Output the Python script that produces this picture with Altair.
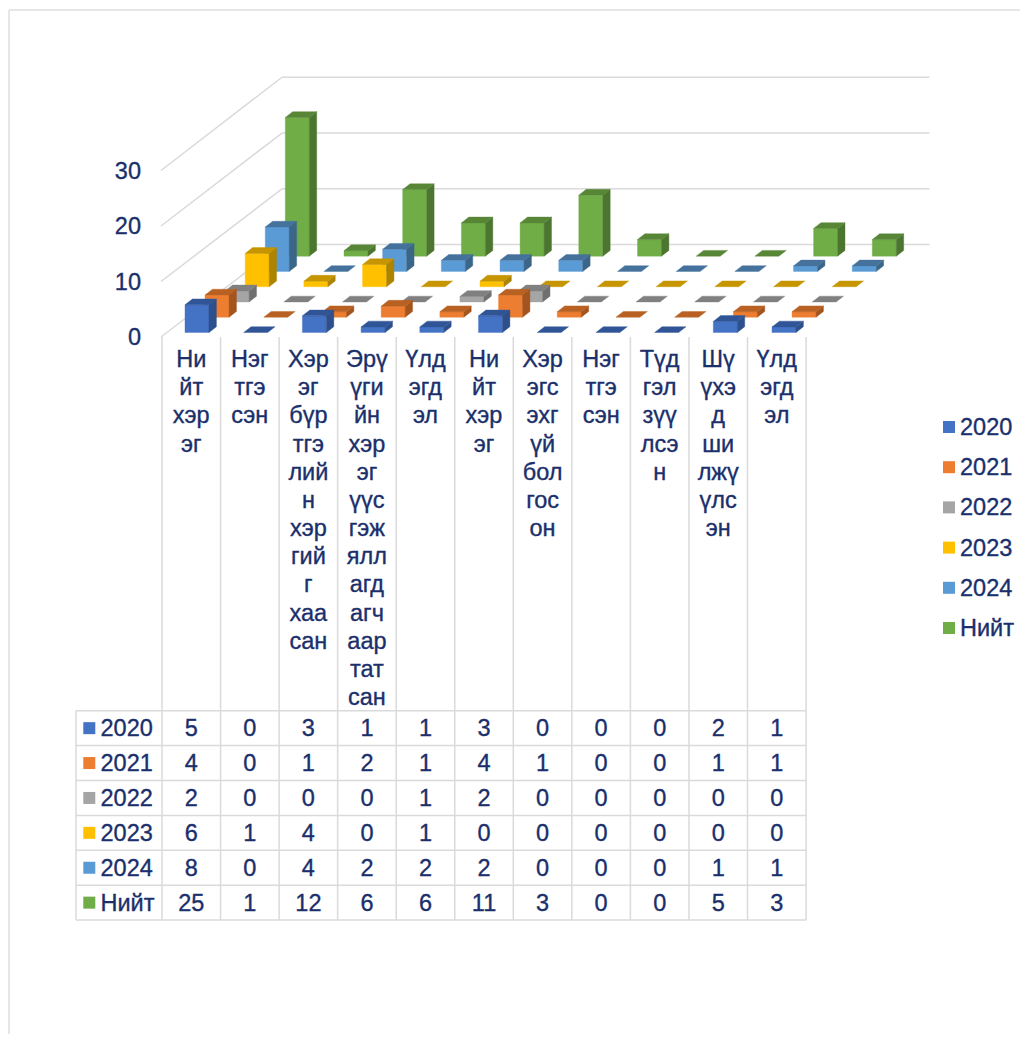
import altair as alt
import pandas as pd

# ---- values ----
series = ["2020", "2021", "2022", "2023", "2024", "Нийт"]
v2020 = [5, 0, 3, 1, 1, 3, 0, 0, 0, 2, 1]
v2021 = [4, 0, 1, 2, 1, 4, 1, 0, 0, 1, 1]
v2022 = [2, 0, 0, 0, 1, 2, 0, 0, 0, 0, 0]
v2023 = [6, 1, 4, 0, 1, 0, 0, 0, 0, 0, 0]
v2024 = [8, 0, 4, 2, 2, 2, 0, 0, 0, 1, 1]
vTotal = [25, 1, 12, 6, 6, 11, 3, 0, 0, 5, 3]
values = [v2020, v2021, v2022, v2023, v2024, vTotal]
categories = [
    ["Ни", "йт", "хэр", "эг"],
    ["Нэг", "тгэ", "сэн"],
    ["Хэр", "эг", "бүр", "тгэ", "лий", "н", "хэр", "гий", "г", "хаа", "сан"],
    ["Эрү", "үги", "йн", "хэр", "эг", "үүс", "гэж", "ялл", "агд", "агч", "аар", "тат", "сан"],
    ["Үлд", "эгд", "эл"],
    ["Ни", "йт", "хэр", "эг"],
    ["Хэр", "эгс", "эхг", "үй", "бол", "гос", "он"],
    ["Нэг", "тгэ", "сэн"],
    ["Түд", "гэл", "зүү", "лсэ", "н"],
    ["Шү", "үхэ", "д", "ши", "лжү", "үлс", "эн"],
    ["Үлд", "эгд", "эл"],
]
front_colors = ["#4472C4", "#ED7D31", "#A5A5A5", "#FFC000", "#5B9BD5", "#70AD47"]
top_colors = ["#2F5597", "#B86122", "#808080", "#C69500", "#44729C", "#578636"]
side_colors = ["#2D4F8C", "#A4541D", "#707070", "#AD8400", "#3B6688", "#4C7630"]
axis_ticks = [0, 10, 20, 30]

TEXT = "#1A2F6B"
GRID = "#DADADA"
FONT = "Liberation Sans"
FS = 23.5
TEXT_DY = 1
TEXT_STYLE = dict(font=FONT, fontSize=FS, color=TEXT, stroke=TEXT, strokeWidth=0.35, baseline="middle")

# ---- oblique projection of the 3D scene onto the page ----
CAT_DX, SER_DX, SER_DY, UNIT = 58.7, 20.06, 15.26, 5.55
BAR_W, DEP_X, DEP_Y = 24, 7.4, 5.8
X0, Y0 = 185, 332.5


def project(cat, ser, val):
    return X0 + CAT_DX * cat + SER_DX * ser, Y0 - SER_DY * ser - UNIT * val


rows = []
face = 0


def add_face(points, color):
    global face
    for i, (px, py) in enumerate(points):
        rows.append({"px": px, "py": py, "pt": i, "face": face, "paint": color})
    face += 1


for s in range(len(series) - 1, -1, -1):
    for c, v in enumerate(values[s]):
        x, base = project(c, s, 0)
        _, top = project(c, s, v)
        if v > 0:
            add_face([(x, base), (x + BAR_W, base), (x + BAR_W, top), (x, top)], front_colors[s])
            add_face([(x + BAR_W, base), (x + BAR_W + DEP_X, base - DEP_Y),
                      (x + BAR_W + DEP_X, top - DEP_Y), (x + BAR_W, top)], side_colors[s])
        add_face([(x, top), (x + BAR_W, top), (x + BAR_W + DEP_X, top - DEP_Y),
                  (x + DEP_X, top - DEP_Y)], top_colors[s])
bars_df = pd.DataFrame(rows)

X_SCALE = alt.Scale(domain=[8, 1020], range=[0, 1012], nice=False, zero=False)
Y_SCALE = alt.Scale(domain=[8, 1034], range=[0, 1026], nice=False, zero=False)
fx = lambda f: alt.X(f, type="quantitative", scale=X_SCALE, axis=None)
fy = lambda f: alt.Y(f, type="quantitative", scale=Y_SCALE, axis=None)


def segments(segs, color, width):
    df = pd.DataFrame(segs, columns=["x1", "y1", "x2", "y2"])
    return alt.Chart(df).mark_rule(color=color, strokeWidth=width).encode(
        x=fx("x1"), y=fy("y1"), x2="x2:Q", y2="y2:Q"
    )


# frame of the picture
frame = segments([(9, 10, 1020, 10), (9, 10, 9, 1034)], "#DEDEDE", 1.5)

# wall / floor gridlines
WALL_X0, WALL_X1, WALL_BACK, FRONT_X, TICK_Y0 = 282, 929.5, 244.6, 161, 337
segs = []
for t in axis_ticks:
    back = WALL_BACK - UNIT * t * 1.005
    front = TICK_Y0 - UNIT * t
    segs.append((FRONT_X, front, WALL_X0, back))
    segs.append((WALL_X0, back, WALL_X1, back))
grid = segments(segs, GRID, 1.5)

# bars
bars = alt.Chart(bars_df).mark_line(interpolate="linear-closed", strokeWidth=0.4).encode(
    x=fx("px"), y=fy("py"),
    fill=alt.Fill("paint:N", scale=None),
    stroke=alt.Stroke("paint:N", scale=None),
    detail="face:N",
    order=alt.Order("pt:Q"),
)

# table
TB_LEFT, TB_X0, COL_W, TB_TOP, ROW0, ROW_H = 76, 162, 58.55, 337, 710.7, 34.9
n_cat, n_ser = len(categories), len(series)
TB_X1 = TB_X0 + COL_W * n_cat
TB_BOT = ROW0 + ROW_H * n_ser
tsegs = []
for i in range(n_cat + 1):
    tsegs.append((TB_X0 + COL_W * i, TB_TOP, TB_X0 + COL_W * i, TB_BOT))
tsegs.append((TB_LEFT, ROW0, TB_LEFT, TB_BOT))
for r in range(n_ser + 1):
    tsegs.append((TB_LEFT, ROW0 + ROW_H * r, TB_X1, ROW0 + ROW_H * r))
table_lines = segments(tsegs, GRID, 1.5)

label_rows = []
for c, lines in enumerate(categories):
    for i, t in enumerate(lines):
        label_rows.append({"x": TB_X0 + COL_W * (c + 0.5), "y": 359 + 28.17 * i + TEXT_DY, "t": t})
cell_rows = []
for r, vals in enumerate(values):
    for c, v in enumerate(vals):
        cell_rows.append({"x": TB_X0 + COL_W * (c + 0.5), "y": ROW0 + ROW_H * (r + 0.5) + TEXT_DY, "t": str(v)})
center_text = alt.Chart(pd.DataFrame(label_rows + cell_rows)).mark_text(
    align="center", **TEXT_STYLE
).encode(x=fx("x"), y=fy("y"), text="t:N")

left_rows = []
key_rows = []
for r, name in enumerate(series):
    ty = ROW0 + ROW_H * (r + 0.5)
    left_rows.append({"x": 100.5, "y": ty + TEXT_DY, "t": name})
    key_rows.append({"x": 83.3, "x2": 95.3, "y": ty - 6, "y2": ty + 6, "c": front_colors[r]})
    ly = 427 + 40.2 * r
    left_rows.append({"x": 960, "y": ly + TEXT_DY, "t": name})
    key_rows.append({"x": 943, "x2": 955, "y": ly - 6, "y2": ly + 6, "c": front_colors[r]})
left_text = alt.Chart(pd.DataFrame(left_rows)).mark_text(
    align="left", **TEXT_STYLE
).encode(x=fx("x"), y=fy("y"), text="t:N")
keys = alt.Chart(pd.DataFrame(key_rows)).mark_rect().encode(
    x=fx("x"), x2="x2:Q", y=fy("y"), y2="y2:Q", color=alt.Color("c:N", scale=None)
)

# value axis labels
axis_df = pd.DataFrame({"x": [141] * 4, "y": [TICK_Y0 - UNIT * t + TEXT_DY for t in axis_ticks], "t": [str(t) for t in axis_ticks]})
axis_text = alt.Chart(axis_df).mark_text(
    align="right", **TEXT_STYLE
).encode(x=fx("x"), y=fy("y"), text="t:N")

chart = alt.layer(frame, grid, table_lines, bars, center_text, left_text, keys, axis_text).properties(
    width=1012, height=1026, padding=0,
    autosize=alt.AutoSizeParams(type="none"),
    background="#FFFFFF",
).configure_view(stroke=None)

chart.save("out.html", embed_options={"renderer": "svg", "actions": False})
